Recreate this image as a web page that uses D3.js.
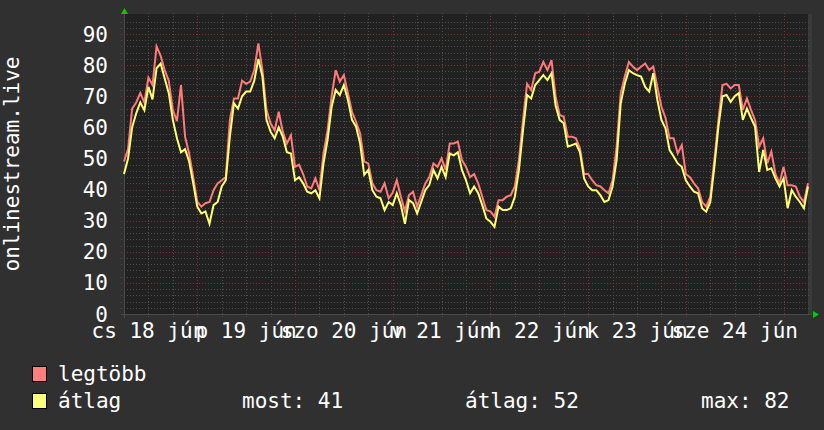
<!DOCTYPE html>
<html>
<head>
<meta charset="utf-8">
<script src="https://cdn.jsdelivr.net/npm/d3@7"></script>
<style>
  body { margin: 0; background: #303030; }
  svg { display: block; }
  text { font-family: "DejaVu Sans Mono", monospace; fill: #ffffff; font-size: 21px; }
</style>
</head>
<body>
<svg width="824" height="430"></svg>
<script>
// hourly samples, starting Thu 18 Jun 06:00
var maxVals = [
  49, 53, 66, 68, 71, 68, 76, 73.6, 86, 83, 78.4, 75, 65.6, 62, 73.6, 57, 51.6, 44, 36, 34.5,
  35.6, 36, 39.8, 42, 43, 44, 62.3, 69.3, 69.3, 75, 74, 74.7, 78.4, 87, 78.4, 65.6, 61.3, 59, 65, 58.6,
  54.8, 57.5, 47.3, 48, 45, 41, 40.4, 43.6, 39.8, 51.6, 59, 70, 78.4, 74.7, 76.8, 71, 65, 61.8, 58, 49,
  48.4, 42, 39.8, 39.3, 42, 37.2, 39, 43, 37.7, 33, 38.2, 39.3, 34.5, 38.2, 42, 44, 48.4, 47.3, 50, 46.3,
  54.8, 54.8, 55.4, 49.5, 47.3, 44, 45, 42, 37.7, 33.4, 33, 31.3, 36.6, 36.6, 37.7, 38.2, 41, 49.5, 62.3, 74,
  72, 77.4, 77.9, 81, 78.4, 81.6, 70, 64, 63.4, 57, 57, 56.5, 53.2, 45, 45, 43, 41.4, 41, 39.8, 38.8,
  43, 53.8, 71, 76.3, 81, 79.5, 78.4, 79.5, 80.5, 78.4, 79.5, 73, 66.6, 63, 56.5, 56.5, 51.6, 54.3, 45, 44,
  42, 40.4, 36, 34.5, 37.7, 49.5, 62.3, 73.6, 74, 72.5, 73.6, 73.6, 65.6, 69.3, 65.6, 62.3, 53.8, 56.5, 48.4, 52.2,
  45, 42, 47.3, 41.4, 41.4, 41, 37.7, 36, 42
];
var avgVals = [
  45, 50, 60, 64.5, 68, 65.5, 73, 69, 79, 80.5, 75.7, 71, 62.4, 56.5, 52, 53, 49, 42, 34.5, 32.3,
  33, 29, 35, 36, 41, 43, 57, 67.7, 66, 70, 71.5, 71.5, 75, 82, 76.3, 62.4, 58.6, 56.5, 60, 57,
  52, 51.6, 43, 44, 42, 39.3, 38.8, 39.8, 37.2, 48.4, 56, 66.6, 72, 70.4, 73.6, 68.8, 62.4, 60.2, 54.8, 44.7,
  46.3, 39.8, 37.7, 37.2, 33.4, 36, 35, 38.8, 35, 29, 36.6, 35.6, 32.3, 36, 39.8, 41.5, 46.3, 43.6, 47.3, 44,
  51.6, 51, 52, 46.3, 43, 38.8, 41, 38.8, 35, 30.7, 29.7, 28, 34.5, 33.4, 33.4, 34, 37.7, 46.3, 59, 70.4,
  69.3, 73.6, 75.2, 76.8, 75.2, 77.4, 67, 62.4, 61.3, 53.8, 54.3, 54.8, 52, 43.6, 41, 39.8, 39.8, 38.2, 36, 36.6,
  41, 49.5, 67.7, 74, 78.4, 77.4, 76.8, 76.3, 73, 71.5, 77.4, 68.8, 62.4, 59.7, 52.7, 50.6, 48.4, 47.3, 43, 41,
  39.3, 38.8, 34, 32.9, 36, 47.3, 60.2, 70, 70.4, 68.2, 70, 71, 62.4, 66, 63, 60.2, 45.7, 52.7, 46.3, 46.8,
  43.6, 41, 43.6, 34, 39.8, 37.7, 36, 34, 41
];
var dayLabels = ["cs 18 jún", "p 19 jún", "szo 20 jún", "v 21 jún", "h 22 jún", "k 23 jún", "sze 24 jún"];
var yTicks = [0, 10, 20, 30, 40, 50, 60, 70, 80, 90];
var seriesNames = ["legtöbb", "átlag"];
var avgStats = ["most: 41", "átlag: 52", "max: 82"];

var svg = d3.select("svg");
var plotL = 124, plotR = 808, plotT = 14, plotB = 314;

var start = new Date(2020, 5, 18, 6);
var end = d3.timeHour.offset(start, 168);
var times = maxVals.map(function(d, i) { return d3.timeHour.offset(start, i); });

var x = d3.scaleTime().domain([start, end]).range([plotL, plotR]);
var y = d3.scaleLinear().domain([0, 96.43]).range([plotB, plotT]);

// plot background
svg.append("rect").attr("x", plotL).attr("y", plotT).attr("width", plotR - plotL).attr("height", plotB - plotT)
  .attr("fill", "#212121");
svg.append("rect").attr("x", plotR).attr("y", plotT).attr("width", 4).attr("height", plotB - plotT)
  .attr("fill", "#3a3a3a");

// horizontal grid
var grid = svg.append("g");
d3.range(2, 96, 2).forEach(function(v) {
  var major = v % 10 === 0;
  grid.append("line")
    .attr("x1", plotL - 3).attr("x2", plotR + 3)
    .attr("y1", Math.round(y(v)) + 0.5).attr("y2", Math.round(y(v)) + 0.5)
    .attr("stroke", major ? "#7a3434" : "#4e4e4e")
    .attr("stroke-dasharray", "1,2");
});

// vertical grid: 6h minor, midnight major
d3.timeHour.every(6).range(start, end).forEach(function(t) {
  var major = t.getHours() === 0;
  var px = Math.round(x(t)) + 0.5;
  grid.append("line")
    .attr("x1", px).attr("x2", px)
    .attr("y1", plotT - 1).attr("y2", plotB + 3)
    .attr("stroke", major ? "#7a3434" : "#4e4e4e")
    .attr("stroke-dasharray", "1,2");
});

// axes lines
svg.append("line").attr("x1", plotL - 3).attr("x2", plotR + 4).attr("y1", plotB + 0.5).attr("y2", plotB + 0.5)
  .attr("stroke", "#4a4a4a");
svg.append("line").attr("x1", plotL + 0.5).attr("x2", plotL + 0.5).attr("y1", plotT - 2).attr("y2", plotB + 4)
  .attr("stroke", "#4a4a4a");

// arrows
svg.append("path").attr("d", "M121,14 L124.5,8 L128,14 Z").attr("fill", "#00cc00");
svg.append("path").attr("d", "M813,311 L819,314.5 L813,318 Z").attr("fill", "#00cc00");

// lines
var line = d3.line()
  .x(function(d, i) { return x(times[i]); })
  .y(function(d) { return y(d); });

svg.append("path").datum(maxVals).attr("d", line)
  .attr("fill", "none").attr("stroke", "#ff7a7a").attr("stroke-width", 2);
svg.append("path").datum(avgVals).attr("d", line)
  .attr("fill", "none").attr("stroke", "#ffff72").attr("stroke-width", 2);

// y tick labels
svg.append("g").selectAll("text").data(yTicks).join("text")
  .attr("x", 108).attr("y", function(d) { return y(d); })
  .attr("dy", "0.36em")
  .attr("text-anchor", "end")
  .text(function(d) { return d; });

// x labels at noon of each day
svg.append("g").selectAll("text").data(dayLabels).join("text")
  .attr("x", function(d, i) { return x(d3.timeHour.offset(new Date(2020, 5, 18), 12 + 24 * i)); })
  .attr("y", 338)
  .attr("text-anchor", "middle")
  .text(function(d) { return d; });

// y axis title
svg.append("text")
  .attr("transform", "translate(18.5,164) rotate(-90)")
  .attr("text-anchor", "middle")
  .text("onlinestream.live");

// legend
var colors = ["#ff7f7f", "#ffff7f"];
var legend = svg.append("g");
seriesNames.forEach(function(name, i) {
  var ly = 366 + i * 27;
  legend.append("rect").attr("x", 32.5).attr("y", ly + 0.5).attr("width", 14).attr("height", 15)
    .attr("fill", colors[i]).attr("stroke", "#000");
  legend.append("text").attr("x", 58).attr("y", ly + 15).text(name);
});
var statX = [242, 465, 701];
avgStats.forEach(function(s, i) {
  legend.append("text").attr("x", statX[i]).attr("y", 408).text(s);
});
</script>
</body>
</html>
